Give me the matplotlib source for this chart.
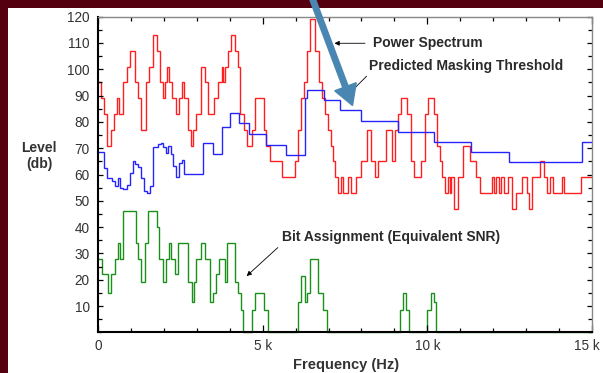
import matplotlib
matplotlib.use("Agg")
import matplotlib.pyplot as plt
from matplotlib.patches import Rectangle, FancyArrow
from matplotlib.ticker import MultipleLocator
from matplotlib.transforms import IdentityTransform, ScaledTranslation

plt.rcParams['font.family'] = ['Liberation Sans', 'DejaVu Sans']

# Power spectrum (red): step start frequencies (Hz) and levels (dB)
spec_freq = [0, 90, 180, 270, 390, 490, 580, 640, 760, 880, 970, 1120, 1200, 1320,
             1460, 1550, 1680, 1780, 1880, 1960, 2020, 2080, 2160, 2260, 2360, 2460,
             2540, 2620, 2720, 2820, 2890, 2990, 3140, 3240, 3340, 3520, 3650, 3750,
             3800, 3860, 3950, 4050, 4150, 4240, 4310, 4420, 4520, 4680, 4770, 5030,
             5110, 5210, 5590, 5980, 6060, 6160, 6270, 6340, 6450, 6580, 6710, 6810,
             6880, 6990, 7090, 7150, 7200, 7280, 7380, 7450, 7580, 7690, 7840, 8000,
             8180, 8300, 8420, 8510, 8730, 8930, 9010, 9110, 9210, 9390, 9490, 9600,
             9820, 9920, 10020, 10210, 10300, 10380, 10450, 10550, 10630, 10690,
             10730, 10810, 10930, 11090, 11290, 11490, 11600, 11970, 12020, 12070,
             12170, 12240, 12340, 12440, 12580, 12680, 12880, 13030, 13090, 13180,
             13420, 13540, 13640, 13730, 13820, 14090, 14150, 14670, 15000]
spec_level = [95, 89, 83, 71, 77, 83, 89, 83, 95, 101, 107, 95, 89, 77,
              95, 101, 113, 107, 95, 89, 95, 101, 95, 89, 83, 89,
              95, 89, 77, 71, 77, 83, 101, 95, 83, 89, 95, 101,
              95, 101, 107, 113, 107, 101, 83, 77, 71, 77, 89, 77,
              71, 65, 59, 65, 77, 89, 95, 107, 119, 107, 95, 89,
              83, 77, 71, 65, 59, 53, 59, 53, 59, 53, 59, 65,
              77, 65, 59, 65, 77, 65, 77, 83, 89, 83, 65, 59,
              65, 83, 89, 83, 71, 65, 59, 53, 59, 53,
              59, 47, 59, 71, 65, 59, 53, 59, 53, 59,
              53, 59, 53, 59, 47, 53, 59, 53, 47, 59,
              65, 59, 53, 59, 53, 59, 53, 59]

# Predicted masking threshold (blue)
mask_freq = [0, 190, 260, 420, 520, 600, 670, 770, 870, 970, 1050, 1120, 1200, 1300,
             1400, 1480, 1580, 1680, 1830, 1900, 1980, 2050, 2130, 2210, 2290, 2380,
             2450, 2540, 2620, 3190, 3490, 3750, 4010, 4280, 4570, 5100, 5700, 6280,
             6350, 6850, 7360, 7980, 9120, 10200, 11340, 12480, 14700, 15000]
mask_level = [68.6, 62.4, 58.6, 57.6, 55.7, 58.8, 55, 54.4, 56, 60.7, 65.2, 63.9, 62.9, 58.8,
              53.8, 52.9, 55.7, 70.5, 71.5, 72.1, 70.6, 68, 70.9, 67.7, 63.3, 59,
              64.5, 65.4, 60.2, 72, 67.7, 78, 83.2, 79.5, 75.3, 71.1, 67.3, 89,
              92.3, 88.2, 84.5, 80.5, 76.3, 72.4, 68.7, 64.9, 72.5]

# Bit assignment (green)
bits_freq = [0, 110, 290, 390, 520, 600, 670, 770, 1140, 1220, 1300, 1420, 1510, 1780,
             1850, 1980, 2060, 2150, 2230, 2330, 2420, 2720, 2840, 2900, 2990, 3120,
             3240, 3390, 3490, 3570, 3670, 3850, 3930, 4150, 4250, 4330, 4400, 4680,
             4780, 5050, 5170, 6060, 6160, 6280, 6360, 6450, 6670, 6840, 6950, 9160,
             9260, 9360, 9430, 10000, 10100, 10200, 10270, 15000]
bits_level = [28, 22, 15, 22, 28, 34, 28, 46, 34, 28, 19, 34, 46, 40,
              28, 19, 28, 34, 28, 22, 34, 19, 11.6, 19, 28, 34,
              28, 11.6, 15, 22, 28, 19, 34, 19, 15, 8.5, 0, 8.5,
              15, 8.5, 0, 11.6, 21.5, 11.6, 15, 28, 15, 8.5, 0, 8.5,
              15, 8.5, 0, 8.5, 15, 11.6, 0]

x_ticks = [0, 5000, 10000, 15000]
x_tick_labels = ['0', '5 k', '10 k', '15 k']

fig = plt.figure(figsize=(6.03, 3.73), dpi=100, facecolor='#55000f')
fig.add_artist(Rectangle((8 / 603, 0), 1, (373 - 8) / 373, transform=fig.transFigure,
                         facecolor='white', edgecolor='none', zorder=-5))
ax = fig.add_axes([98 / 603, 40.7 / 373, 494 / 603, 315.6 / 373])

ax.stairs(spec_level, spec_freq, baseline=None, color='#ff1f1f', lw=1.0)
ax.stairs(mask_level, mask_freq, baseline=None, color='#2424ff', lw=1.0)
ax.stairs(bits_level, bits_freq, baseline=None, color='#1a8f1a', lw=1.0, clip_on=False)

ax.set_xlim(0, 15000)
ax.set_ylim(0, 120)
ax.set_xticks(x_ticks)
ax.set_xticklabels(x_tick_labels)
ax.xaxis.set_minor_locator(MultipleLocator(1000))
ax.set_yticks(range(10, 121, 10))
ax.yaxis.set_minor_locator(MultipleLocator(5))
ax.tick_params(which='both', direction='in', top=True, right=True, labelsize=9.8,
               labelcolor='#333333', width=0.9)
ax.tick_params(axis='x', which='major', length=5, pad=5)
ax.tick_params(axis='y', which='major', length=3.5, pad=6)
ax.tick_params(which='minor', length=3)

# nudge the last x label so it stays inside the picture
last = ax.get_xticklabels()[-1]
last.set_transform(last.get_transform() + ScaledTranslation(-0.05, 0, fig.dpi_scale_trans))

for side in ['left', 'bottom']:
    ax.spines[side].set_linewidth(1.5)
    ax.spines[side].set_color('black')
for side in ['top', 'right']:
    ax.spines[side].set_linewidth(1.0)
    ax.spines[side].set_color('#888888')

fig.text(39 / 603, 1 - 156 / 373, 'Level\n(db)', ha='center', va='center',
         fontsize=10, fontweight='bold', color='#333333', linespacing=1.2)
fig.text(346 / 603, 1 - 365 / 373, 'Frequency (Hz)', ha='center', va='center',
         fontsize=10.5, fontweight='bold', color='#333333')

txt = dict(ha='left', va='center', fontsize=10, fontweight='bold', color='#2a2a2a')
ax.annotate('Power Spectrum', xy=(7180, 109.9), xytext=(8360, 109.9),
            arrowprops=dict(arrowstyle='-|>', color='black', lw=0.6,
                            shrinkA=4, shrinkB=0, mutation_scale=7), **txt)
ax.annotate('Predicted Masking Threshold', xy=(7790, 92.8), xytext=(8240, 101.1),
            arrowprops=dict(arrowstyle='-', color='black', lw=0.6,
                            relpos=(0, 0), shrinkA=0, shrinkB=0), **txt)
ax.annotate('Bit Assignment (Equivalent SNR)', xy=(4515, 21.4), xytext=(5576, 36.2),
            arrowprops=dict(arrowstyle='-|>', color='black', lw=0.6,
                            relpos=(0, 0), shrinkA=1, shrinkB=0, mutation_scale=7), **txt)

# big overlay arrow (figure pixels)
fig.add_artist(FancyArrow(311, 378, 41.5, -110.5, width=5.5, head_width=23,
                          head_length=20, length_includes_head=True,
                          color='#4a86b2', transform=IdentityTransform(), zorder=10))

fig.savefig('out.png', dpi=100, facecolor=fig.get_facecolor())
